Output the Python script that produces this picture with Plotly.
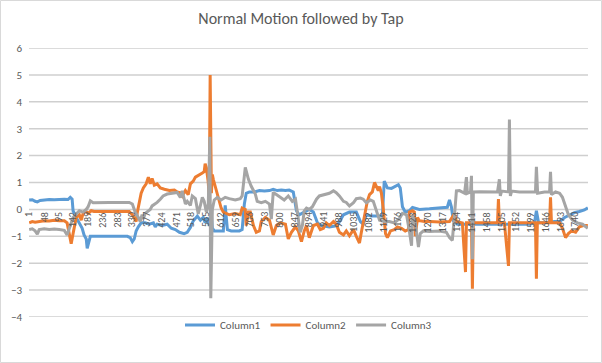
import plotly.graph_objects as go

N_POINTS = 1782
tick_step = 47
series_names = ["Column1", "Column2", "Column3"]
colors = ["#5B9BD5", "#ED7D31", "#A5A5A5"]

# Column1 (sample index, value)
c1_idx = [1, 11, 20, 27, 36, 49, 65, 81, 97, 113, 125, 132, 138, 141, 151, 161, 170, 176, 183, 186,
          191, 196, 208, 224, 256, 288, 314, 323, 330, 336, 342, 349, 358, 371, 384, 397, 403, 409, 425, 441,
          454, 467, 480, 495, 505, 515, 524, 537, 547, 556, 562, 569, 575, 582, 585, 591, 607, 620, 626, 633,
          645, 671, 680, 687, 693, 703, 719, 735, 751, 767, 779, 792, 805, 818, 830, 843, 853, 862, 878, 894,
          907, 920, 932, 958, 983, 1003, 1022, 1044, 1057, 1066, 1076, 1092, 1111, 1127, 1133, 1143, 1156, 1169, 1178, 1184,
          1191, 1200, 1213, 1223, 1245, 1277, 1309, 1334, 1341, 1347, 1353, 1366, 1405, 1468, 1532, 1596, 1612, 1618, 1625, 1644,
          1676, 1692, 1708, 1723, 1739, 1755, 1771, 1782]
c1_val = [0.35, 0.36, 0.30, 0.28, 0.33, 0.35, 0.37, 0.36, 0.38, 0.38, 0.37, 0.45, 0.38, -0.05, -0.3, -0.5, -0.7, -0.95, -1.1, -1.45,
          -1.2, -1.0, -1.0, -1.0, -1.0, -1.0, -1.0, -1.05, -1.2, -1.1, -0.8, -0.65, -0.5, -0.5, -0.55, -0.5, -0.65, -0.55, -0.6, -0.55,
          -0.7, -0.75, -0.85, -0.9, -0.85, -0.67, -0.43, -0.25, -0.4, -0.3, -0.5, -0.3, -0.6, -0.2, -0.7, -0.8, -0.8, -0.8, 0.15, -0.75,
          -0.8, -0.8, -0.75, 0.2, 0.6, 0.65, 0.65, 0.7, 0.68, 0.7, 0.75, 0.7, 0.72, 0.7, 0.72, 0.65, -0.05, -0.2, -0.1, 0.0,
          -0.1, -0.5, -0.6, -0.65, -0.6, -0.2, -0.1, -0.1, -0.45, -0.55, -0.2, -0.25, -0.25, -0.25, 1.05, 0.8, 0.78, 0.85, 0.92, 0.8,
          0.1, -0.1, -0.05, 0.07, 0.0, 0.02, 0.05, 0.08, 0.35, 0.1, -0.42, -0.55, -0.55, -0.55, -0.55, -0.55, -0.5, -0.05, -0.5, -0.5,
          -0.45, -0.45, -0.3, -0.2, -0.12, -0.08, -0.02, 0.06]

# Column2
c2_idx = [1, 11, 20, 33, 49, 65, 81, 97, 113, 122, 129, 135, 141, 145, 151, 161, 167, 173, 180, 189,
          199, 208, 224, 256, 288, 320, 330, 336, 342, 346, 352, 358, 365, 374, 381, 387, 393, 400, 409, 419,
          432, 448, 464, 473, 483, 489, 499, 508, 515, 524, 531, 540, 547, 553, 559, 562, 566, 569, 572, 575,
          578, 582, 585, 588, 594, 601, 607, 613, 620, 639, 658, 674, 680, 690, 693, 700, 706, 716, 725, 735,
          741, 754, 767, 779, 789, 802, 818, 827, 837, 850, 859, 869, 878, 885, 894, 907, 920, 929, 939, 948,
          958, 971, 980, 990, 1003, 1012, 1022, 1035, 1044, 1054, 1060, 1070, 1079, 1086, 1095, 1102, 1108, 1114, 1118, 1124,
          1130, 1137, 1143, 1153, 1165, 1175, 1188, 1200, 1210, 1213, 1223, 1229, 1232, 1239, 1245, 1261, 1277, 1309, 1341, 1357,
          1363, 1382, 1392, 1395, 1411, 1414, 1417, 1436, 1468, 1494, 1497, 1500, 1516, 1529, 1532, 1564, 1596, 1615, 1618, 1621,
          1644, 1660, 1663, 1666, 1692, 1701, 1711, 1720, 1730, 1743, 1755, 1768, 1782]
c2_val = [-0.5, -0.45, -0.48, -0.45, -0.42, -0.43, -0.4, -0.42, -0.42, -0.5, -0.9, -1.28, -0.9, -0.6, -0.3, -0.2, -0.4, -0.15, -0.05, -0.15,
          -0.05, -0.08, -0.08, -0.08, -0.08, -0.08, -0.2, -0.35, -0.45, -0.1, 0.2, 0.6, 0.8, 0.95, 1.2, 0.95, 1.15, 0.9, 0.95, 0.8,
          0.75, 0.7, 0.72, 0.65, 0.62, 0.5, 0.7, 0.55, 0.95, 1.05, 1.2, 1.25, 1.3, 1.35, 1.4, 1.7, 1.55, 1.3, 1.0, 0.3,
          5.0, 0.6, 1.3, 1.12, 0.85, 0.6, 0.3, 0.05, -0.1, -0.2, -0.15, -0.2, 0.05, 0.0, -0.6, -0.1, -0.1, -0.6, -0.85, -0.8,
          -0.45, -0.3, -0.4, -0.95, -0.6, -0.5, -0.55, -1.1, -0.85, -0.65, -0.8, -1.2, -0.8, -0.6, -1.05, -0.6, -0.55, -0.75, -0.7, -0.5,
          -0.6, -0.45, -0.55, -0.85, -0.95, -0.8, -0.98, -0.75, -1.0, -1.25, -0.85, -0.2, 0.3, 0.55, 0.65, 1.0, 0.85, 0.7, 0.85, 0.6,
          0.0, -0.9, -1.05, -0.8, -0.75, -0.65, -0.7, -0.8, -0.75, -0.1, -0.05, -0.1, -1.0, -0.3, -0.42, -0.45, -0.45, -0.47, -0.45, -0.15,
          -0.45, -0.5, -2.33, -0.5, -0.5, -2.95, -0.5, -0.5, -0.5, -0.5, 0.38, -0.5, -0.5, -2.1, -0.5, -0.5, -0.5, -0.5, -2.58, -0.5,
          -0.5, -0.5, 0.45, -0.5, -0.5, -0.7, -1.05, -0.9, -0.8, -0.85, -0.65, -0.6, -0.6]

# Column3
c3_idx = [1, 11, 20, 27, 33, 49, 65, 81, 97, 113, 122, 132, 141, 151, 161, 173, 183, 189, 196, 205,
          224, 256, 288, 320, 330, 339, 349, 355, 361, 365, 371, 381, 387, 393, 403, 409, 419, 428, 441, 454,
          464, 473, 483, 489, 499, 505, 515, 521, 531, 540, 547, 553, 559, 566, 572, 577, 580, 585, 591, 601,
          613, 626, 639, 658, 674, 680, 690, 700, 709, 722, 728, 741, 754, 767, 773, 779, 789, 802, 814, 827,
          840, 850, 859, 865, 872, 878, 885, 894, 904, 917, 926, 942, 958, 971, 980, 990, 1003, 1012, 1022, 1035,
          1044, 1057, 1066, 1076, 1089, 1098, 1108, 1118, 1133, 1149, 1165, 1181, 1191, 1204, 1213, 1220, 1223, 1232, 1242, 1248,
          1258, 1277, 1309, 1331, 1341, 1350, 1357, 1363, 1373, 1382, 1389, 1395, 1398, 1408, 1411, 1414, 1417, 1437, 1468, 1494,
          1500, 1503, 1507, 1529, 1532, 1535, 1539, 1564, 1596, 1615, 1618, 1622, 1644, 1660, 1663, 1666, 1679, 1692, 1701, 1711,
          1720, 1733, 1749, 1765, 1782]
c3_val = [-0.75, -0.72, -0.8, -0.92, -0.75, -0.72, -0.75, -0.73, -0.75, -0.78, -0.95, -0.6, -0.3, -0.17, -0.05, -0.1, 0.0, 0.1, 0.32, 0.25,
          0.26, 0.26, 0.26, 0.26, 0.2, -0.1, -0.3, -0.45, -0.2, -0.35, -0.15, -0.05, 0.0, 0.13, 0.2, 0.26, 0.38, 0.5, 0.57, 0.6,
          0.6, 0.63, 0.44, 0.69, 0.2, 0.3, 0.15, 0.5, 0.4, -0.17, 0.15, 0.45, 0.3, -0.1, 0.2, 2.7, -3.3, 0.0, 0.35, 0.45,
          0.35, 0.45, 0.4, 0.35, 0.4, 0.5, 1.56, 1.12, 0.86, 0.57, 0.3, 0.25, 0.3, 0.2, -0.36, 0.63, 0.55, 0.45, 0.35, 0.5,
          0.3, 0.38, -0.3, -0.85, -0.6, -0.05, 0.05, 0.0, 0.1, 0.38, 0.5, 0.55, 0.6, 0.69, 0.62, 0.5, 0.3, 0.26, 0.13, 0.25,
          0.4, 0.42, 0.38, 0.25, 0.35, 0.3, -0.05, -0.4, -0.45, -0.45, -0.5, -0.35, -0.15, -0.2, -0.8, -1.35, -0.2, -0.5, -1.4, -0.9,
          -0.8, -0.82, -0.8, -0.85, -1.05, -1.15, -0.2, 0.69, 0.7, 0.65, 0.6, 1.2, 0.6, 0.65, 1.25, -1.85, 0.65, 0.66, 0.65, 0.65,
          1.12, 0.5, 0.68, 0.65, 3.34, 0.5, 0.68, 0.65, 0.65, 0.65, 1.58, 0.6, 0.65, 0.65, 1.4, 0.55, 0.65, 0.6, 0.45, 0.1,
          -0.2, -0.4, -0.5, -0.55, -0.7]

y_ticks = [-4, -3, -2, -1, 0, 1, 2, 3, 4, 5, 6]
x_tickvals = list(range(1, N_POINTS, tick_step))
x_ticktext = [str(v) for v in x_tickvals]

FONT = "Calibri, Carlito, Lato, sans-serif"
TXT = "#595959"
GRID = "#d9d9d9"

x_lo, x_hi = 0.5, N_POINTS + 0.5

fig = go.Figure()

# horizontal gridlines (one per value-axis tick), drawn beneath the series
gx, gy = [], []
for v in y_ticks:
    gx += [x_lo, x_hi, None]
    gy += [v, v, None]
fig.add_trace(go.Scatter(x=gx, y=gy, mode="lines", line=dict(color="#cfcfcf", width=1.5),
                         hoverinfo="skip", showlegend=False, cliponaxis=False))

for name, col, xs, ys in zip(series_names, colors, [c1_idx, c2_idx, c3_idx], [c1_val, c2_val, c3_val]):
    fig.add_trace(go.Scatter(x=xs, y=ys, mode="lines", name=name,
                             line=dict(color=col, width=3)))

# category labels sit under the horizontal axis, which crosses at y = 0
for tv, tt in zip(x_tickvals, x_ticktext):
    fig.add_annotation(x=tv, y=0, xref="x", yref="y", text=tt, showarrow=False,
                       textangle=-90, xanchor="center", yanchor="top", yshift=-1,
                       font=dict(family=FONT, size=10, color=TXT))

L, R, T, B = 29, 14, 48, 46
W, H = 602, 363
pw, ph = W - L - R, H - T - B

border = dict(type="rect", xref="paper", yref="paper",
              x0=-(L - 0.5) / pw, x1=1 + (R - 0.5) / pw,
              y0=-(B - 0.5) / ph, y1=1 + (T - 0.5) / ph,
              line=dict(color=GRID, width=1), fillcolor="rgba(0,0,0,0)", layer="above")

fig.update_layout(
    width=W, height=H,
    margin=dict(l=L, r=R, t=T, b=B, autoexpand=False),
    paper_bgcolor="white", plot_bgcolor="white",
    title=dict(text="Normal Motion followed by Tap", x=0.5, xanchor="center",
               y=1 - 18 / H, yanchor="middle", yref="container",
               font=dict(family=FONT, size=16, color=TXT)),
    font=dict(family=FONT, color=TXT),
    showlegend=True,
    legend=dict(orientation="h", x=0.5, xanchor="center", y=-8 / ph, yanchor="middle",
                font=dict(family=FONT, size=11, color=TXT), itemwidth=30,
                bgcolor="rgba(0,0,0,0)"),
    xaxis=dict(range=[x_lo, x_hi], showticklabels=False, showgrid=False, zeroline=False,
               showline=False, ticks=""),
    yaxis=dict(range=[-4, 6], tickmode="array", tickvals=y_ticks, showgrid=False,
               zeroline=False, showline=False, ticks="",
               ticklabelstandoff=6, tickfont=dict(family=FONT, size=11, color=TXT)),
    shapes=[border],
)

fig.write_html("out.html", config={"displayModeBar": False},
               post_script="document.body.style.margin='0';document.body.style.overflow='hidden';")
